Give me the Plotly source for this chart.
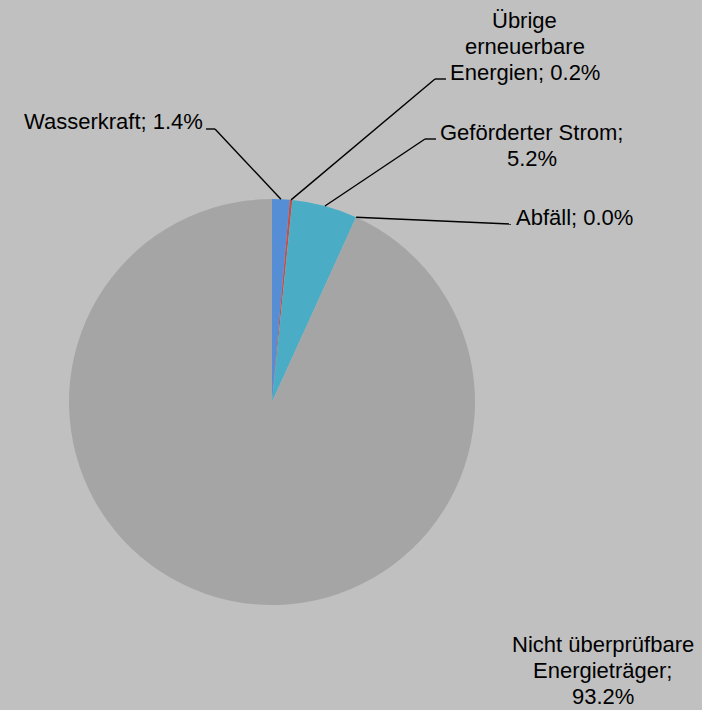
import math
import plotly.graph_objects as go

labels = ["Wasserkraft", "Übrige erneuerbare Energien", "Geförderter Strom", "Abfäll",
          "Nicht überprüfbare Energieträger"]
values = [1.4, 0.2, 5.2, 0.0, 93.2]
label_lines = [
    ["Wasserkraft; 1.4%"],
    ["Übrige", "erneuerbare", "Energien; 0.2%"],
    ["Geförderter Strom;", "5.2%"],
    ["Abfäll; 0.0%"],
    ["Nicht überprüfbare", "Energieträger;", "93.2%"],
]
colors = ["#558ed5", "#c0504d", "#4bacc6", "#8064a2", "#a5a5a5"]

W, H = 702, 710
CX, CY, R = 272, 402, 203


def px(x):
    return x / W


def py(y):
    return 1 - y / H


fig = go.Figure(go.Pie(
    labels=labels, values=values, sort=False, direction="clockwise", rotation=0,
    marker=dict(colors=colors, line=dict(width=0)), textinfo="none",
    hoverinfo="label+percent", showlegend=False,
    domain=dict(x=[px(CX - R), px(CX + R)], y=[py(CY + R), py(CY - R)]),
))

# mid-angle points on the pie rim, derived from the data
total = sum(values)
cum = 0
anchors = []
for v in values:
    frac = (cum + v / 2) / total
    ang = 2 * math.pi * frac
    anchors.append((CX + R * math.sin(ang), CY - R * math.cos(ang)))
    cum += v

# leader line elbow and end positions (layout)
leaders = {
    0: [(215, 129), (206, 129)],
    1: [(435, 79), (446, 79)],
    2: [(425, 139), (436, 139)],
    3: [(511, 224)],
}
shapes = []
for i, pts in leaders.items():
    path = [anchors[i]] + pts
    for (x0, y0), (x1, y1) in zip(path[:-1], path[1:]):
        shapes.append(dict(type="line", xref="paper", yref="paper",
                           x0=px(x0), y0=py(y0), x1=px(x1), y1=py(y1),
                           line=dict(color="black", width=1.4)))

font = dict(family="Liberation Sans, Arial, sans-serif", size=22, color="black")
# label block centre x and first-line centre y (layout)
label_pos = [(113, 121.7), (524.7, 20.7), (531.5, 132.4), (574, 217.4), (602.7, 644.4)]
LINE_H = 25.8
annotations = []
for lines, (x, y0) in zip(label_lines, label_pos):
    for k, t in enumerate(lines):
        annotations.append(dict(text=t, x=px(x), y=py(y0 + k * LINE_H),
                                xref="paper", yref="paper",
                                xanchor="center", yanchor="middle", showarrow=False,
                                align="center", font=font))

fig.update_layout(
    width=W, height=H, margin=dict(l=0, r=0, t=0, b=0),
    paper_bgcolor="#c0c0c0", plot_bgcolor="#c0c0c0",
    shapes=shapes, annotations=annotations,
)
fig.write_html("out.html", config={"displayModeBar": False},
               post_script="document.body.style.margin='0';document.body.style.overflow='hidden';")
